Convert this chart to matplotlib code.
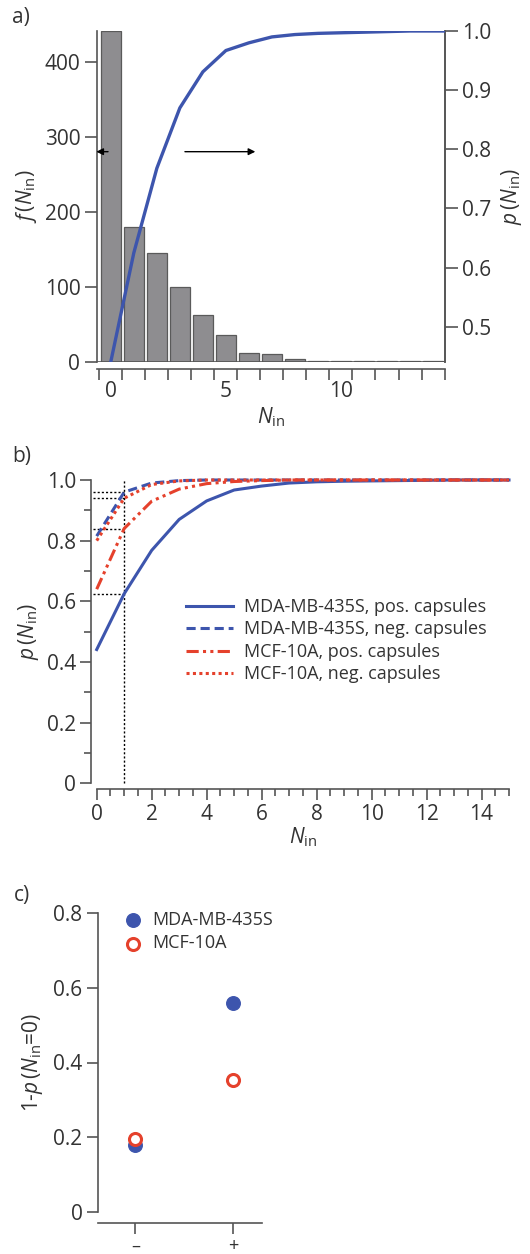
import matplotlib
matplotlib.use("Agg")
import matplotlib.pyplot as plt
import numpy as np
from matplotlib.ticker import MultipleLocator, FixedLocator

plt.rcParams['font.family'] = ['Open Sans', 'DejaVu Sans']
plt.rcParams['mathtext.fontset'] = 'custom'
plt.rcParams['mathtext.it'] = 'Open Sans:italic'
plt.rcParams['mathtext.rm'] = 'Open Sans'

# ---------------- data ----------------
n_in = list(range(0, 16))
freq_counts = [441, 180, 145, 100, 62, 36, 11, 10, 4, 1, 1, 1, 1, 1, 1]
p_mda_pos = [0.441, 0.625, 0.768, 0.870, 0.931, 0.967, 0.980, 0.990, 0.994, 0.996, 0.997, 0.998, 0.999, 1.0, 1.0, 1.0]
p_mda_neg = [0.815, 0.960, 0.990, 0.998, 1.0, 1.0, 1.0, 1.0, 1.0, 1.0, 1.0, 1.0, 1.0, 1.0, 1.0, 1.0]
p_mcf_pos = [0.640, 0.840, 0.930, 0.970, 0.988, 0.995, 0.998, 1.0, 1.0, 1.0, 1.0, 1.0, 1.0, 1.0, 1.0, 1.0]
p_mcf_neg = [0.800, 0.940, 0.985, 0.997, 1.0, 1.0, 1.0, 1.0, 1.0, 1.0, 1.0, 1.0, 1.0, 1.0, 1.0, 1.0]
ref_levels = [0.960, 0.940, 0.840, 0.625]
capsule_cats = ['\u2013', '+']
c_mda = [0.18, 0.558]
c_mcf = [0.197, 0.352]

blue = '#3d55ad'
red = '#e5412c'
gray_txt = '#333333'
spine_c = '#555555'

W, H = 530, 1254
fig = plt.figure(figsize=(W / 100, H / 100), dpi=100)

def ax_rect(x0, y0, x1, y1):
    return [x0 / W, 1 - y1 / H, (x1 - x0) / W, (y1 - y0) / H]

fs = 15
lfs = 13

def style(ax):
    for s in ax.spines.values():
        s.set_color(spine_c)
        s.set_linewidth(1.2)
    ax.tick_params(colors=spine_c, labelcolor=gray_txt, labelsize=fs, width=1.2)

# ---------------- panel a ----------------
axa = fig.add_axes(ax_rect(97, 31, 445, 361.7))
style(axa)
xa = n_in[:len(freq_counts)]
axa.bar(xa, freq_counts, width=0.88, color='#8e8d90', edgecolor='#5a5a5a', linewidth=0.9, zorder=2)
axa.set_xlim(-0.6, 14.52)
axa.set_ylim(0, 441)
axa.spines['top'].set_visible(False)
axa.spines['bottom'].set_position(('outward', 5))
axa.axhline(0, color=spine_c, lw=1.2, zorder=3)
axa.yaxis.set_major_locator(FixedLocator([0, 100, 200, 300, 400]))
axa.tick_params(axis='y', direction='out', length=9, pad=3)
axa.xaxis.set_major_locator(FixedLocator([0, 5, 10]))
axa.xaxis.set_minor_locator(FixedLocator(np.arange(-0.5, 14.6, 1.0)))
axa.tick_params(axis='x', which='major', length=0, pad=9)
axa.tick_params(axis='x', which='minor', length=8, direction='out', width=1.2, color=spine_c)
axa.set_ylabel(r'$f\,(N_{\mathrm{in}})$', fontsize=fs, color=gray_txt, labelpad=4)
axa.set_xlabel(r'$N_{\mathrm{in}}$', fontsize=fs, color=gray_txt, labelpad=2)

axr = axa.twinx()
style(axr)
axr.spines['top'].set_visible(False)
axr.spines['left'].set_visible(False)
axr.spines['bottom'].set_visible(False)
axr.plot(n_in, p_mda_pos, color=blue, lw=2.4, zorder=4)
axr.set_ylim(0.441, 1.0)
axr.set_xlim(-0.6, 14.52)
axr.yaxis.set_major_locator(FixedLocator([0.5, 0.6, 0.7, 0.8, 0.9, 1.0]))
axr.yaxis.set_major_formatter(matplotlib.ticker.FormatStrFormatter('%.1f'))
axr.tick_params(axis='y', direction='out', length=9, pad=3)
axr.set_ylabel(r'$p\,(N_{\mathrm{in}})$', fontsize=fs, color=gray_txt, labelpad=6)

# arrows
axr.annotate('', xy=(-0.75, 0.796), xytext=(0.0, 0.796), xycoords='data',
             arrowprops=dict(arrowstyle='-|>', color='black', lw=1.0, mutation_scale=10),
             annotation_clip=False)
axr.annotate('', xy=(6.4, 0.796), xytext=(3.1, 0.796),
             arrowprops=dict(arrowstyle='-|>', color='black', lw=1.0, mutation_scale=10))

fig.text(12 / W, 1 - 17 / H, 'a)', fontsize=fs, color=gray_txt, va='center')

# ---------------- panel b ----------------
axb = fig.add_axes(ax_rect(96.7, 480, 509, 783.3))
style(axb)
axb.spines['top'].set_visible(False)
axb.spines['right'].set_visible(False)
axb.spines['left'].set_position(('outward', 4))
axb.spines['bottom'].set_position(('outward', 4))
axb.set_xlim(0, 15)
axb.set_ylim(0, 1.0)
axb.plot(n_in, p_mda_pos, color=blue, lw=2.2, label='MDA-MB-435S, pos. capsules', clip_on=False, zorder=4)
axb.plot(n_in, p_mda_neg, color=blue, lw=2.2, ls=(0, (3, 1.6)), label='MDA-MB-435S, neg. capsules', clip_on=False, zorder=4)
axb.plot(n_in, p_mcf_pos, color=red, lw=2.2, ls=(0, (4, 1.4, 1, 1.4, 1, 1.4)), label='MCF-10A, pos. capsules', clip_on=False, zorder=5)
axb.plot(n_in, p_mcf_neg, color=red, lw=2.2, ls=(0, (1, 1.1)), label='MCF-10A, neg. capsules', clip_on=False, zorder=5)
axb.plot([1, 1], [0, 1.0], color='black', lw=1.0, ls=(0, (1.5, 1.5)), clip_on=False, zorder=3)
for lv in ref_levels:
    axb.plot([-0.15, 1], [lv, lv], color='black', lw=1.0, ls=(0, (1.5, 1.5)), clip_on=False, zorder=3)
axb.xaxis.set_major_locator(MultipleLocator(2))
axb.xaxis.set_minor_locator(MultipleLocator(0.5))
axb.yaxis.set_major_locator(MultipleLocator(0.2))
axb.yaxis.set_minor_locator(MultipleLocator(0.1))
axb.yaxis.set_major_formatter(matplotlib.ticker.FuncFormatter(lambda v, p: '0' if abs(v) < 1e-9 else f'{v:.1f}'))
axb.tick_params(axis='both', which='major', length=8, direction='out', pad=3)
axb.tick_params(axis='both', which='minor', length=5, direction='out', width=1.2, color=spine_c)
axb.set_xlabel(r'$N_{\mathrm{in}}$', fontsize=fs, color=gray_txt, labelpad=0)
axb.set_ylabel(r'$p\,(N_{\mathrm{in}})$', fontsize=fs, color=gray_txt, labelpad=4)
leg = axb.legend(loc='upper left', bbox_to_anchor=(0.2, 0.635), frameon=False, fontsize=lfs,
                 handlelength=2.6, handletextpad=0.6, labelspacing=0.25, borderaxespad=0)
for t in leg.get_texts():
    t.set_color(gray_txt)
fig.text(12 / W, 1 - 457 / H, 'b)', fontsize=fs, color=gray_txt, va='center')

# ---------------- panel c ----------------
axc = fig.add_axes(ax_rect(97.7, 912.7, 261.7, 1212.3))
style(axc)
axc.spines['top'].set_visible(False)
axc.spines['right'].set_visible(False)
axc.spines['bottom'].set_position(('outward', 8))
axc.set_xlim(-0.385, 1.295)
axc.set_ylim(0, 0.8)
xc = np.arange(len(capsule_cats))
axc.scatter(xc, c_mda, s=95, color=blue, edgecolor=blue, label='MDA-MB-435S', zorder=3)
axc.scatter(xc, c_mcf, s=75, facecolor='white', edgecolor=red, linewidth=2.2, label='MCF-10A', zorder=4)
axc.set_xticks(xc)
axc.set_xticklabels(capsule_cats)
axc.yaxis.set_major_locator(MultipleLocator(0.2))
axc.yaxis.set_major_formatter(matplotlib.ticker.FuncFormatter(lambda v, p: '0' if abs(v) < 1e-9 else f'{v:.1f}'))
axc.tick_params(axis='both', which='major', length=8, direction='out', pad=3)
axc.tick_params(axis='x', pad=2, labelsize=13)
axc.set_ylabel(r'1-$p\,(N_{\mathrm{in}}$=0)', fontsize=fs, color=gray_txt, labelpad=6)
legc = axc.legend(loc='upper left', bbox_to_anchor=(0.06, 1.03), frameon=False, fontsize=lfs,
                  handletextpad=0.1, labelspacing=0.3, borderaxespad=0, scatterpoints=1)
for t in legc.get_texts():
    t.set_color(gray_txt)
fig.text(14 / W, 1 - 895 / H, 'c)', fontsize=fs, color=gray_txt, va='center')

fig.savefig('out.png', dpi=100)
